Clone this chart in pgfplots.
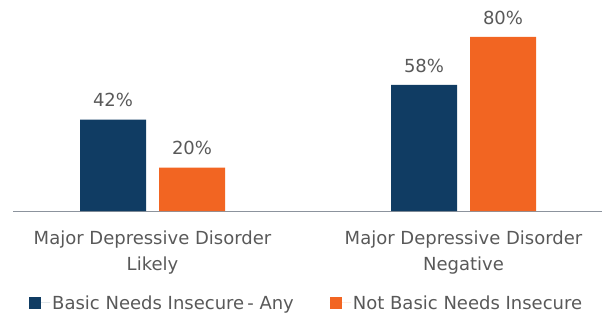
\documentclass[border=0pt]{standalone}
\usepackage{fontspec}
\setmainfont{DejaVu Sans}
\usepackage{pgfplots}
\pgfplotsset{compat=1.18}
\definecolor{cblue}{HTML}{103C63}
\definecolor{corange}{HTML}{F26522}
\definecolor{ctext}{HTML}{595959}
\definecolor{caxis}{HTML}{8C939D}
\begin{document}
\begin{tikzpicture}
\useasboundingbox (-13pt,-103pt) rectangle (589pt,211pt);
\begin{axis}[
  scale only axis,
  width=589pt, height=211pt,
  xmin=-0.4486, xmax=1.4453,
  ymin=0, ymax=97,
  ybar=13pt, bar width=66pt,
  axis x line*=bottom,
  axis y line=none,
  x axis line style={caxis, line width=1pt, -},
  xtick={0,1},
  xticklabels={{Major Depressive Disorder\\Likely},{Major Depressive Disorder\\Negative}},
  xticklabel style={align=center, font=\fontsize{18}{26}\selectfont, text=ctext, yshift=-16pt},
  major tick length=0pt,
  /pgf/number format/assume math mode=true,
  nodes near coords={\pgfmathprintnumber{\pgfplotspointmeta}\%},
  every node near coord/.append style={font=\fontsize{18}{21}\selectfont, text=ctext, yshift=9pt},
  legend columns=2,
  legend style={draw=none, fill=none, at={(0.0272,-0.436)}, anchor=west,
    font=\fontsize{18}{21}\selectfont, text=ctext,
    /tikz/every even column/.append style={column sep=34pt},
    inner sep=0pt},
  legend image code/.code={\fill[#1] (0pt,-6pt) rectangle (12pt,6pt); \path (0pt,0pt) -- (21pt,0pt);},
  clip=false,
]
\addplot[fill=cblue, draw=none] coordinates {(0,42) (1,58)};
\addplot[fill=corange, draw=none] coordinates {(0,20) (1,80)};
\legend{Basic Needs Insecure\,- Any, Not Basic Needs Insecure}
\end{axis}
\end{tikzpicture}
\end{document}
